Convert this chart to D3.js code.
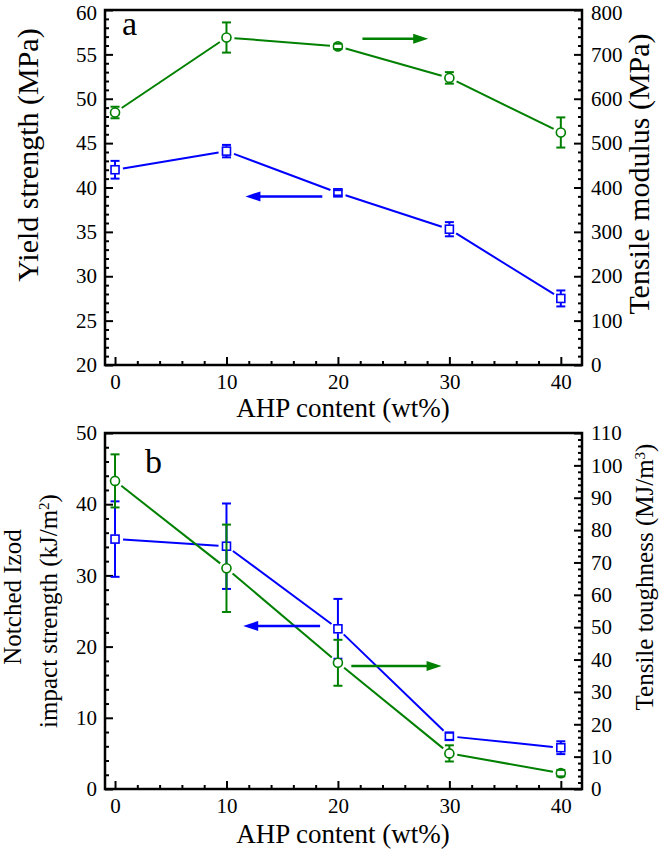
<!DOCTYPE html>
<html><head><meta charset="utf-8">
<script src="https://cdn.jsdelivr.net/npm/d3@7"></script>
<style>body{margin:0;background:#fff}svg{display:block}</style>
</head><body>
<svg id="c" width="666" height="849"></svg>
<script>
// ---- data ----
const ahp = [0, 10, 20, 30, 40];
const xMajorTicks = [0, 10, 20, 30, 40];

// panel a
const yieldStrength = [42.0, 44.1, 39.4, 35.3, 27.5];
const yieldErr = [1.0, 0.7, 0.3, 0.8, 0.9];
const tensileModulus = [569, 738, 718, 647, 524];
const modulusErr = [13, 34, 6, 13, 34];
const yieldTicks = [20, 25, 30, 35, 40, 45, 50, 55, 60];
const modulusTicks = [0, 100, 200, 300, 400, 500, 600, 700, 800];

// panel b
const izodImpact = [35.1, 34.1, 22.5, 7.4, 5.8];
const izodErr = [5.3, 6.0, 4.2, 0.5, 0.9];
const tensileToughness = [95.2, 68.2, 39.0, 11.0, 4.9];
const toughnessErr = [8.2, 13.5, 7.1, 2.5, 1.0];
const izodTicks = [0, 10, 20, 30, 40, 50];
const toughnessTicks = [0, 10, 20, 30, 40, 50, 60, 70, 80, 90, 100, 110];

const BLUE = "#0000ff", GREEN = "#008000";
const FONT = "'Liberation Serif','Times New Roman',serif";
const svg = d3.select("#c");

function range(a, b, s) { const r = []; for (let v = a; v <= b + 1e-9; v += s) r.push(+v.toFixed(6)); return r; }

function panel(o) {
  const g = svg.append("g");
  const x = d3.scaleLinear().domain([-0.9, 41.9]).range([105, 582]);
  const yl = d3.scaleLinear().domain(o.yLeftDomain).range([o.bottom, o.top]);
  const yr = d3.scaleLinear().domain(o.yRightDomain).range([o.bottom, o.top]);
  const tickStyle = s => s.selectAll(".tick line").attr("stroke", "#000").attr("stroke-width", 2);
  const textStyle = s => s.selectAll(".tick text").attr("font-family", FONT).attr("font-size", 21).attr("fill", "#000");
  const nudgeTop = (s, topVal) => s.selectAll(".tick text").filter(d => d === topVal && o.top < 20).attr("dy", "0.45em");

  // minor ticks
  const xMinor = range(2, 40, 2).filter(v => !xMajorTicks.includes(v));
  g.append("g").attr("transform", `translate(0,${o.bottom})`)
    .call(d3.axisBottom(x).tickValues(xMinor).tickSize(-4).tickFormat(""))
    .call(s => s.select(".domain").remove()).call(tickStyle);
  g.append("g").attr("transform", `translate(105,0)`)
    .call(d3.axisLeft(yl).tickValues(o.yLeftMinor).tickSize(-4).tickFormat(""))
    .call(s => s.select(".domain").remove()).call(tickStyle);
  g.append("g").attr("transform", `translate(582,0)`)
    .call(d3.axisRight(yr).tickValues(o.yRightMinor).tickSize(-4).tickFormat(""))
    .call(s => s.select(".domain").remove()).call(tickStyle);

  // major ticks
  g.append("g").attr("transform", `translate(0,${o.bottom})`)
    .call(d3.axisBottom(x).tickValues(xMajorTicks).tickSize(-8).tickPadding(9).tickFormat(d3.format("d")))
    .call(s => s.select(".domain").remove()).call(tickStyle).call(textStyle);
  g.append("g").attr("transform", `translate(105,0)`)
    .call(d3.axisLeft(yl).tickValues(o.yLeftTicks).tickSize(-8).tickPadding(8).tickFormat(d3.format("d")))
    .call(s => s.select(".domain").remove()).call(tickStyle).call(textStyle)
    .call(s => nudgeTop(s, o.yLeftDomain[1]));
  g.append("g").attr("transform", `translate(582,0)`)
    .call(d3.axisRight(yr).tickValues(o.yRightTicks).tickSize(-8).tickPadding(9).tickFormat(d3.format("d")))
    .call(s => s.select(".domain").remove()).call(tickStyle).call(textStyle)
    .call(s => nudgeTop(s, o.yRightDomain[1]));

  // frame
  g.append("rect").attr("x", 105).attr("y", o.top).attr("width", 477).attr("height", o.bottom - o.top)
    .attr("fill", "none").attr("stroke", "#000").attr("stroke-width", 2.5);

  // series
  function series(vals, errs, scale, color, shape) {
    const pts = ahp.map((a, i) => ({ px: x(a), py: scale(vals[i]), lo: scale(vals[i] - errs[i]), hi: scale(vals[i] + errs[i]) }));
    const gap = 8, r = 4.5;
    for (let i = 0; i < pts.length - 1; i++) {
      const a = pts[i], b = pts[i + 1];
      const dx = b.px - a.px, dy = b.py - a.py, L = Math.hypot(dx, dy);
      const ux = dx / L, uy = dy / L;
      g.append("line").attr("x1", a.px + ux * gap).attr("y1", a.py + uy * gap)
        .attr("x2", b.px - ux * gap).attr("y2", b.py - uy * gap)
        .attr("stroke", color).attr("stroke-width", 2);
    }
    pts.forEach(p => {
      if (shape === "square") {
        g.append("rect").attr("x", p.px - 4).attr("y", p.py - 4).attr("width", 8).attr("height", 8)
          .attr("fill", "#fff").attr("stroke", color).attr("stroke-width", 1.6);
      } else {
        g.append("circle").attr("cx", p.px).attr("cy", p.py).attr("r", r)
          .attr("fill", "#fff").attr("stroke", color).attr("stroke-width", 1.6);
      }
      if (p.hi < p.py - r) g.append("line").attr("x1", p.px).attr("x2", p.px).attr("y1", p.hi).attr("y2", p.py - r)
        .attr("stroke", color).attr("stroke-width", 2);
      if (p.lo > p.py + r) g.append("line").attr("x1", p.px).attr("x2", p.px).attr("y1", p.py + r).attr("y2", p.lo)
        .attr("stroke", color).attr("stroke-width", 2);
      [p.lo, p.hi].forEach(yy => g.append("line").attr("x1", p.px - 4.5).attr("x2", p.px + 4.5)
        .attr("y1", yy).attr("y2", yy).attr("stroke", color).attr("stroke-width", 2));
    });
  }
  series(o.leftVals, o.leftErr, yl, BLUE, "square");
  series(o.rightVals, o.rightErr, yr, GREEN, "circle");

  // arrows
  function arrow(x1, x2, yy, color) {
    const X1 = x(x1), X2 = x(x2), dir = Math.sign(X2 - X1);
    g.append("line").attr("x1", X1).attr("x2", X2 - dir * 10).attr("y1", yy).attr("y2", yy)
      .attr("stroke", color).attr("stroke-width", 2.5);
    g.append("path").attr("d", `M${X2},${yy} L${X2 - dir * 15},${yy - 5} L${X2 - dir * 15},${yy + 5} Z`).attr("fill", color);
  }
  arrow(o.blueArrow[0], o.blueArrow[1], yl(o.blueArrow[2]), BLUE);
  arrow(o.greenArrow[0], o.greenArrow[1], yr(o.greenArrow[2]), GREEN);

  // panel letter
  g.append("text").attr("x", o.letterX).attr("y", o.letterY).text(o.letter)
    .attr("font-family", FONT).attr("font-size", 34);

  // x title
  g.append("text").attr("x", 343).attr("y", o.xTitleY).attr("text-anchor", "middle")
    .attr("font-family", FONT).attr("font-size", 27).text("AHP content (wt%)");
  return g;
}

panel({
  top: 10, bottom: 365,
  yLeftDomain: [20, 60], yRightDomain: [0, 800],
  yLeftTicks: yieldTicks, yRightTicks: modulusTicks,
  yLeftMinor: range(20, 60, 1).filter(v => v % 5 !== 0),
  yRightMinor: range(0, 800, 20).filter(v => v % 100 !== 0),
  leftVals: yieldStrength, leftErr: yieldErr, rightVals: tensileModulus, rightErr: modulusErr,
  blueArrow: [18.6, 11.7, 39.0], greenArrow: [22.2, 28.1, 735],
  letter: "a", letterX: 122, letterY: 35, xTitleY: 417
});
panel({
  top: 433, bottom: 789,
  yLeftDomain: [0, 50], yRightDomain: [0, 110],
  yLeftTicks: izodTicks, yRightTicks: toughnessTicks,
  yLeftMinor: range(0, 50, 2).filter(v => v % 10 !== 0),
  yRightMinor: range(0, 110, 2).filter(v => v % 10 !== 0),
  leftVals: izodImpact, leftErr: izodErr, rightVals: tensileToughness, rightErr: toughnessErr,
  blueArrow: [18.4, 11.5, 22.9], greenArrow: [21.2, 29.3, 38],
  letter: "b", letterX: 145, letterY: 473, xTitleY: 843
});

// rotated titles
function rtitle(xp, yp, size, parts) {
  const t = svg.append("text").attr("transform", `translate(${xp},${yp}) rotate(-90)`)
    .attr("text-anchor", "middle").attr("font-family", FONT).attr("font-size", size);
  parts.forEach(p => {
    const s = t.append("tspan").text(p.t);
    if (p.sup) s.attr("baseline-shift", "super").attr("font-size", 15);
  });
}
rtitle(38, 155, 30, [{ t: "Yield strength (MPa)" }]);
rtitle(649, 174, 30, [{ t: "Tensile modulus (MPa)" }]);
rtitle(21, 597, 25, [{ t: "Notched Izod" }]);
rtitle(57, 611, 25, [{ t: "impact strength (kJ/m" }, { t: "2", sup: true }, { t: ")" }]);
rtitle(653, 577, 25, [{ t: "Tensile toughness (MJ/m" }, { t: "3", sup: true }, { t: ")" }]);
</script>
</body></html>
